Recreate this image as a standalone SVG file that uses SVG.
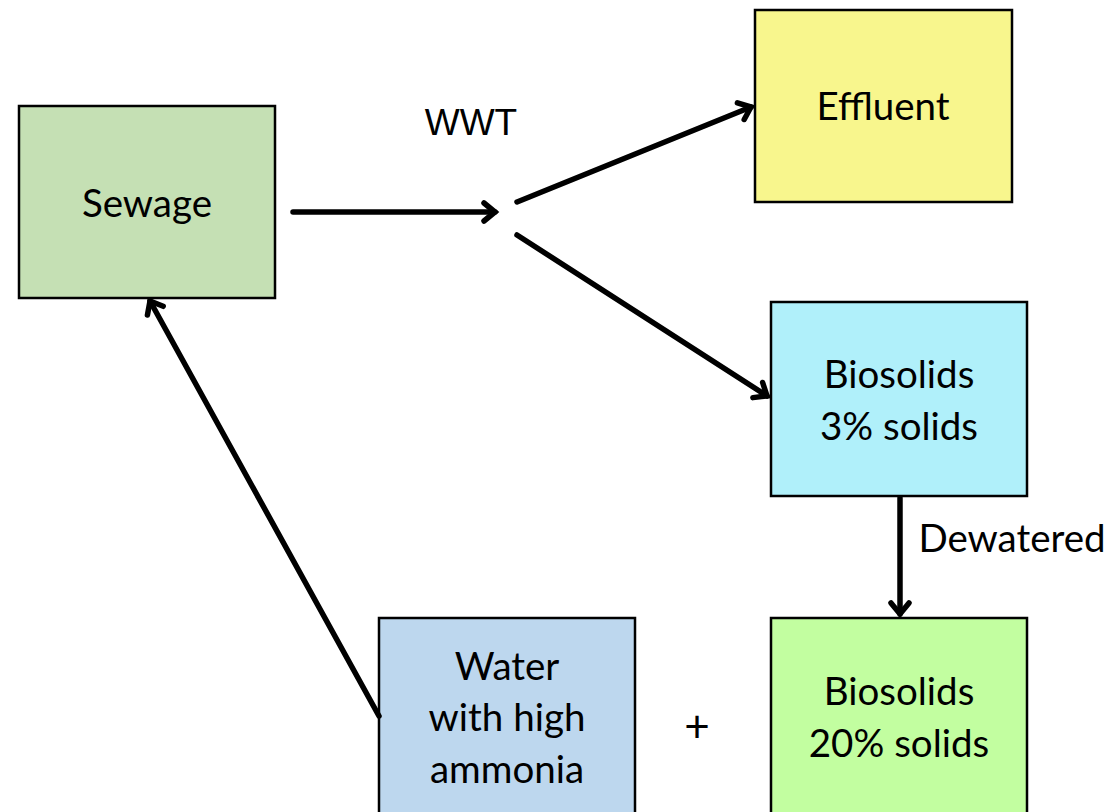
<svg xmlns="http://www.w3.org/2000/svg" width="1109" height="812" viewBox="0 0 1109 812">
<style>
.box{stroke:#000;stroke-width:2.5}
.t{font-family:Lato,"Liberation Sans",sans-serif;font-size:38.5px;fill:#000;text-anchor:middle}
.c{stroke:#000;stroke-width:5.5;fill:none;stroke-linecap:round}
</style>
<defs>
<marker id="arr" viewBox="-12 -10 14 20" refX="0" refY="0" markerWidth="14" markerHeight="20" markerUnits="userSpaceOnUse" orient="auto" overflow="visible">
<path d="M-11,-9 L0,0 L-11,9" fill="none" stroke="#000" stroke-width="5.5" stroke-linecap="round"/>
</marker>
</defs>
<rect width="1109" height="812" fill="#fff"/>
<g id="sewage"><rect class="box" x="19" y="106" width="256" height="192" fill="#c5e0b4"/><text class="t" x="147" y="217">Sewage</text></g>
<g id="effluent"><rect class="box" x="755" y="10" width="257" height="192" fill="#f8f68d"/><text class="t" x="883" y="120">Effluent</text></g>
<g id="bio3"><rect class="box" x="771" y="302" width="256" height="194" fill="#b0f0fa"/><text class="t" x="899" y="388">Biosolids</text><text class="t" x="899" y="440">3% solids</text></g>
<g id="bio20"><rect class="box" x="771" y="618" width="256" height="200" fill="#c2fea0"/><text class="t" x="899" y="705">Biosolids</text><text class="t" x="899" y="757">20% solids</text></g>
<g id="water"><rect class="box" x="379" y="618" width="256" height="200" fill="#bdd7ee"/><text class="t" x="507" y="680">Water</text><text class="t" x="507" y="731">with high</text><text class="t" x="507" y="783">ammonia</text></g>
<g id="labels">
<text x="471" y="135" style="font-family:'Liberation Sans',Arial,sans-serif;font-size:37px;text-anchor:middle">WWT</text>
<text class="t" x="1012" y="552">Dewatered</text>
<text class="t" x="697" y="742" style="font-size:44px">+</text>
</g>
<g id="connectors">
<line class="c" x1="293" y1="212" x2="495" y2="212" marker-end="url(#arr)"/>
<line class="c" x1="517" y1="202" x2="751" y2="107" marker-end="url(#arr)"/>
<line class="c" x1="517" y1="235" x2="767" y2="396" marker-end="url(#arr)"/>
<line class="c" x1="900" y1="498" x2="900" y2="614" marker-end="url(#arr)"/>
<line class="c" x1="379" y1="716" x2="150" y2="301" marker-end="url(#arr)"/>
</g>
</svg>
